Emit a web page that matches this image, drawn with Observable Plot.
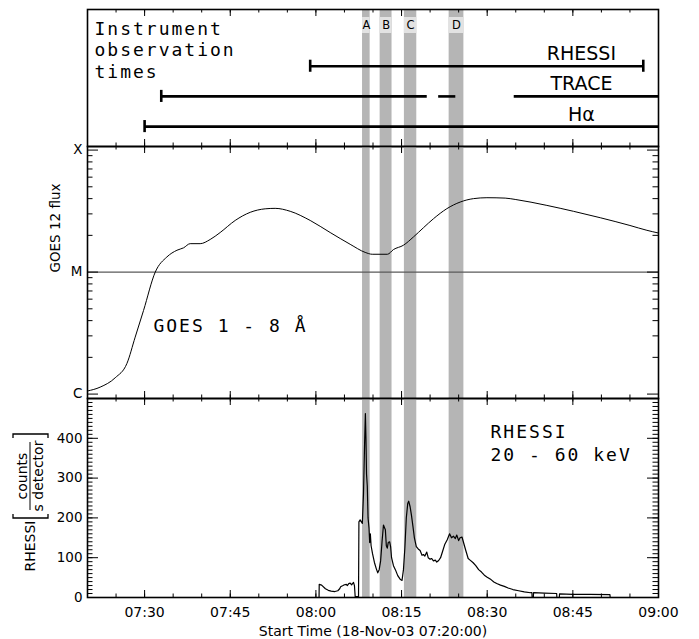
<!DOCTYPE html>
<html><head><meta charset="utf-8">
<script src="https://cdn.jsdelivr.net/npm/d3@7"></script>
<script src="https://cdn.jsdelivr.net/npm/@observablehq/plot@0.6"></script>
<style>
body{margin:0;background:#fff;}
#wrap{position:relative;width:699px;height:639px;overflow:hidden;background:#fff;}
#wrap svg{position:absolute;left:0;overflow:visible;}
g[font-family="DejaVu Sans Mono"]{letter-spacing:2px;}
</style></head><body><div id="wrap"></div>
<script>
const day = "2003-11-18";
const T = s => new Date(`${day}T${s}Z`);
const timeDomain = ["07:20:00", "09:00:00"];
const timeTickLabels = ["07:30","07:45","08:00","08:15","08:30","08:45","09:00"];

// Shaded intervals A-D
const bandNames = ["A","B","C","D"];
const bandStart = ["08:08:10","08:11:15","08:15:30","08:23:20"];
const bandEnd   = ["08:09:30","08:13:20","08:17:40","08:25:55"];

// Instrument observation times
const instruments = ["Hα","TRACE","RHESSI"];
const obsInstrument = ["RHESSI","TRACE","TRACE","TRACE","Hα"];
const obsStart = ["07:59:00","07:32:55","08:21:30","08:34:44","07:30:00"];
const obsEnd   = ["08:57:20","08:19:30","08:24:30","09:00:00","09:00:00"];
const capInstrument = ["RHESSI","RHESSI","TRACE","Hα"];
const capTime = ["07:59:00","08:57:20","07:32:55","07:30:00"];

// GOES 12 1-8 Å flux (W m^-2)
const goesTime = ["07:20:00","07:22:13","07:24:51","07:26:54","07:28:21","07:29:49","07:31:52","07:33:54","07:35:40","07:36:49","07:37:59","07:39:44","07:41:29","07:43:14","07:45:52","07:48:30","07:51:07","07:52:52","07:55:30","07:59:00","08:02:30","08:06:00","08:08:38","08:09:52","08:12:32","08:13:35","08:15:20","08:17:05","08:18:50","08:20:36","08:22:56","08:25:16","08:27:36","08:29:57","08:33:09","08:34:54","08:40:27","08:45:06","08:49:48","08:55:00","08:57:58","09:00:00"];
const goesFlux = [1.06e-6,1.14e-6,1.36e-6,1.78e-6,2.93e-6,4.85e-6,1.0e-5,1.33e-5,1.51e-5,1.58e-5,1.71e-5,1.71e-5,1.85e-5,2.11e-5,2.65e-5,3.09e-5,3.30e-5,3.33e-5,3.15e-5,2.65e-5,2.11e-5,1.69e-5,1.45e-5,1.40e-5,1.40e-5,1.53e-5,1.66e-5,1.94e-5,2.31e-5,2.74e-5,3.31e-5,3.75e-5,4.00e-5,4.07e-5,4.04e-5,3.94e-5,3.52e-5,3.15e-5,2.79e-5,2.41e-5,2.20e-5,2.09e-5];
const goesClassLabels = ["C","M","X"];
const goesClassFlux = [1e-6, 1e-5, 1e-4];
const goesMinorFlux = [2e-6,3e-6,4e-6,5e-6,6e-6,7e-6,8e-6,9e-6,2e-5,3e-5,4e-5,5e-5,6e-5,7e-5,8e-5,9e-5];

// RHESSI 20-60 keV count rate (counts / s detector)
const rhessiTime = ["08:00:33","08:00:35","08:01:00","08:01:40","08:02:10","08:02:40","08:03:20","08:03:50","08:04:10","08:04:20","08:04:45","08:05:00","08:05:20","08:05:30","08:05:45","08:06:00","08:06:15","08:06:25","08:06:35","08:06:45","08:06:53","08:07:28","08:07:32","08:07:45","08:07:58","08:08:08","08:08:20","08:08:32","08:08:40","08:08:46","08:08:52","08:09:00","08:09:08","08:09:18","08:09:25","08:09:32","08:09:40","08:09:55","08:10:15","08:10:35","08:10:50","08:11:05","08:11:20","08:11:35","08:11:50","08:12:00","08:12:10","08:12:20","08:12:30","08:12:40","08:12:55","08:13:05","08:13:15","08:13:35","08:13:55","08:14:20","08:14:45","08:15:05","08:15:20","08:15:35","08:15:50","08:16:05","08:16:15","08:16:30","08:16:45","08:17:00","08:17:15","08:17:35","08:17:55","08:18:15","08:18:35","08:18:50","08:19:05","08:19:25","08:19:40","08:20:00","08:20:15","08:20:35","08:20:55","08:21:10","08:21:30","08:21:50","08:22:10","08:22:35","08:23:00","08:23:25","08:23:45","08:24:05","08:24:25","08:24:40","08:25:00","08:25:15","08:25:35","08:25:55","08:26:15","08:26:40","08:27:00","08:27:30","08:28:00","08:28:30","08:29:00","08:29:30","08:30:00","08:30:40","08:31:10","08:31:40","08:32:20","08:33:00","08:33:40","08:34:30","08:35:30","08:36:30","08:37:35","08:37:50","08:37:52","08:38:05","08:38:07","08:40:00","08:42:10","08:42:12","08:42:38","08:42:40","08:45:00","08:48:00","08:51:30","08:51:32"];
const rhessiRate = [0,33,31,22,18,16,15,17,22,27,30,32,33,30,35,36,32,35,38,30,2,2,190,195,190,186,260,390,462,400,310,280,200,175,138,160,130,110,88,72,62,70,92,140,182,176,170,130,124,138,140,128,100,80,70,55,46,43,70,125,200,236,242,228,205,178,150,128,122,118,106,108,104,114,100,96,98,92,94,89,93,100,115,134,145,160,150,154,148,157,143,150,152,135,118,98,94,88,80,70,64,56,51,45,39,35,31,28,24,20,17,14,12,12,0,0,12,11,10,0,0,9,8,8,7,0];
const rhessiTicks = [0,100,200,300,400];
const rhessiMinor = d3.range(0, 501, 10);

// ---------- layout helpers ----------
const W = 571;
const bands = bandNames.map((n, i) => ({name: n, x1: T(bandStart[i]), x2: T(bandEnd[i])}));
const bandFill = "#b5b5b5";

function base(h, mt, mb, y, marks) {
  return Plot.plot({
    width: 699, height: h, marginLeft: 87, marginRight: 41, marginTop: mt, marginBottom: mb,
    style: {background: "transparent", overflow: "visible", fontFamily: "DejaVu Sans", fontSize: "13px", color: "black"},
    x: {type: "utc", domain: timeDomain.map(T), axis: null},
    y: {...y, axis: null},
    marks
  });
}
function xTicks(H) {
  const minor = d3.utcMinute.every(5).range(T("07:20:00"), T("09:00:01"));
  const major = minor.filter(d => d.getUTCMinutes() % 15 === 0);
  return [
    Plot.tickX(minor, {x: d => d, insetBottom: H - 3.5}),
    Plot.tickX(minor, {x: d => d, insetTop: H - 3.5}),
    Plot.tickX(major, {x: d => d, insetBottom: H - 7}),
    Plot.tickX(major, {x: d => d, insetTop: H - 7})
  ];
}
function yTicks(major, minor) {
  return [
    Plot.tickY(minor, {y: d => d, insetRight: W - 5.5}),
    Plot.tickY(minor, {y: d => d, insetLeft: W - 5.5}),
    Plot.tickY(major, {y: d => d, insetRight: W - 11}),
    Plot.tickY(major, {y: d => d, insetLeft: W - 11})
  ];
}
const frame = () => Plot.frame({stroke: "black", strokeWidth: 1.6});
const bandRects = () => Plot.rectX(bands, {x1: "x1", x2: "x2", fill: bandFill});

// ---------- panel 1: observation times ----------
const H1 = 137;
const obs = obsInstrument.map((inst, i) => ({row: instruments.indexOf(inst), start: T(obsStart[i]), end: T(obsEnd[i])}));
const caps = capInstrument.map((inst, i) => ({row: instruments.indexOf(inst), t: T(capTime[i])}));
const p1 = base(152, 9, 6, {domain: [-0.66, 3.88]}, [
  bandRects(),
  Plot.rectX(bands, {x1: "x1", x2: "x2", fill: "#e2e2e2", insetTop: 8, insetBottom: H1 - 24}),
  Plot.text(bands, {x: d => new Date((+d.x1 + +d.x2) / 2), text: "name", frameAnchor: "top", dy: 16, lineAnchor: "middle", fontSize: 11.5}),
  Plot.text(["Instrument\nobservation\ntimes"], {text: d => d, frameAnchor: "top-left", textAnchor: "start", lineAnchor: "top", dx: 7, dy: 10, lineHeight: 1.2, fontSize: 18, fontFamily: "DejaVu Sans Mono"}),
  Plot.ruleY(obs, {y: "row", x1: "start", x2: "end", strokeWidth: 2.6, stroke: "black"}),
  Plot.ruleX(caps, {x: "t", y1: d => d.row - 0.2, y2: d => d.row + 0.2, strokeWidth: 2.6, stroke: "black"}),
  Plot.text(instruments, {x: () => T("08:46:30"), y: (d, i) => i, text: d => d, lineAnchor: "bottom", dy: -6, fontSize: 19}),
  ...xTicks(H1),
  frame()
]);

// ---------- panel 2: GOES ----------
const H2 = 252;
const goes = goesTime.map((t, i) => ({t: T(t), f: goesFlux[i]}));
const p2 = base(264, 6, 6, {type: "log", domain: [9.2e-7, 1.07e-4]}, [
  bandRects(),
  Plot.ruleY([goesClassFlux[1]], {y: d => d, stroke: "#5a5a5a", strokeWidth: 1.3}),
  Plot.line(goes, {x: "t", y: "f", stroke: "black", strokeWidth: 1, curve: "monotone-x"}),
  Plot.text(goesClassFlux, {y: d => d, text: (d, i) => goesClassLabels[i], frameAnchor: "left", dx: -5, textAnchor: "end", lineAnchor: "middle", fontSize: 13.5}),
  Plot.text(["GOES 12 flux"], {text: d => d, frameAnchor: "left", dx: -32, rotate: -90, lineAnchor: "middle", fontSize: 13.5}),
  Plot.text(["GOES 1 - 8 Å"], {text: d => d, x: () => T("07:31:33"), y: () => 3.22e-6, textAnchor: "start", lineAnchor: "bottom", fontSize: 18, fontFamily: "DejaVu Sans Mono"}),
  ...yTicks(goesClassFlux, goesMinorFlux),
  ...xTicks(H2),
  frame()
]);

// ---------- panel 3: RHESSI ----------
const H3 = 199;
const rhessi = rhessiTime.map((t, i) => ({t: T(t), c: rhessiRate[i]}));
const p3 = base(247, 6, 42, {domain: [0, 500]}, [
  bandRects(),
  Plot.line(rhessi, {x: "t", y: "c", stroke: "black", strokeWidth: 1.2}),
  Plot.text(rhessiTicks, {y: d => d, text: d => String(d), frameAnchor: "left", dx: -5, textAnchor: "end", lineAnchor: "middle", fontSize: 13.5}),
  Plot.text(["RHESSI\n20 - 60 keV"], {text: d => d, x: () => T("08:30:35"), y: () => 344, textAnchor: "start", lineAnchor: "bottom", lineHeight: 1.24, fontSize: 18, fontFamily: "DejaVu Sans Mono"}),
  Plot.text(timeTickLabels, {x: d => T(d + ":00"), text: d => d, frameAnchor: "bottom", dy: 15, lineAnchor: "middle", fontSize: 14}),
  Plot.text(["Start Time (18-Nov-03 07:20:00)"], {text: d => d, frameAnchor: "bottom", dy: 34, lineAnchor: "middle", fontSize: 14}),
  ...yTicks(rhessiTicks.concat([500]), rhessiMinor),
  ...xTicks(H3),
  frame()
]);

const wrap = document.getElementById("wrap");
[[p1, 0], [p2, 140], [p3, 392]].forEach(([p, top]) => { p.style.top = top + "px"; wrap.appendChild(p); });

// composite y-axis label for the RHESSI panel
const off = 392;
const g = d3.select(p3).append("g").attr("font-family", "DejaVu Sans").attr("font-size", 14).attr("fill", "black").attr("text-anchor", "middle");
const rt = (txt, x, y) => g.append("text").attr("transform", `translate(${x},${y - off}) rotate(-90)`).attr("dy", "0.35em").text(txt);
rt("RHESSI", 30, 546);
rt("counts", 22.5, 476);
rt("s detector", 38.5, 476);
g.append("line").attr("x1", 30).attr("x2", 30).attr("y1", 442 - off).attr("y2", 510 - off).attr("stroke", "black").attr("stroke-width", 1);
g.append("path").attr("d", `M13,${514 - off}V${518 - off}H48V${514 - off}`).attr("fill", "none").attr("stroke", "black").attr("stroke-width", 1.3);
g.append("path").attr("d", `M13,${438 - off}V${434 - off}H48V${438 - off}`).attr("fill", "none").attr("stroke", "black").attr("stroke-width", 1.3);
</script></body></html>
